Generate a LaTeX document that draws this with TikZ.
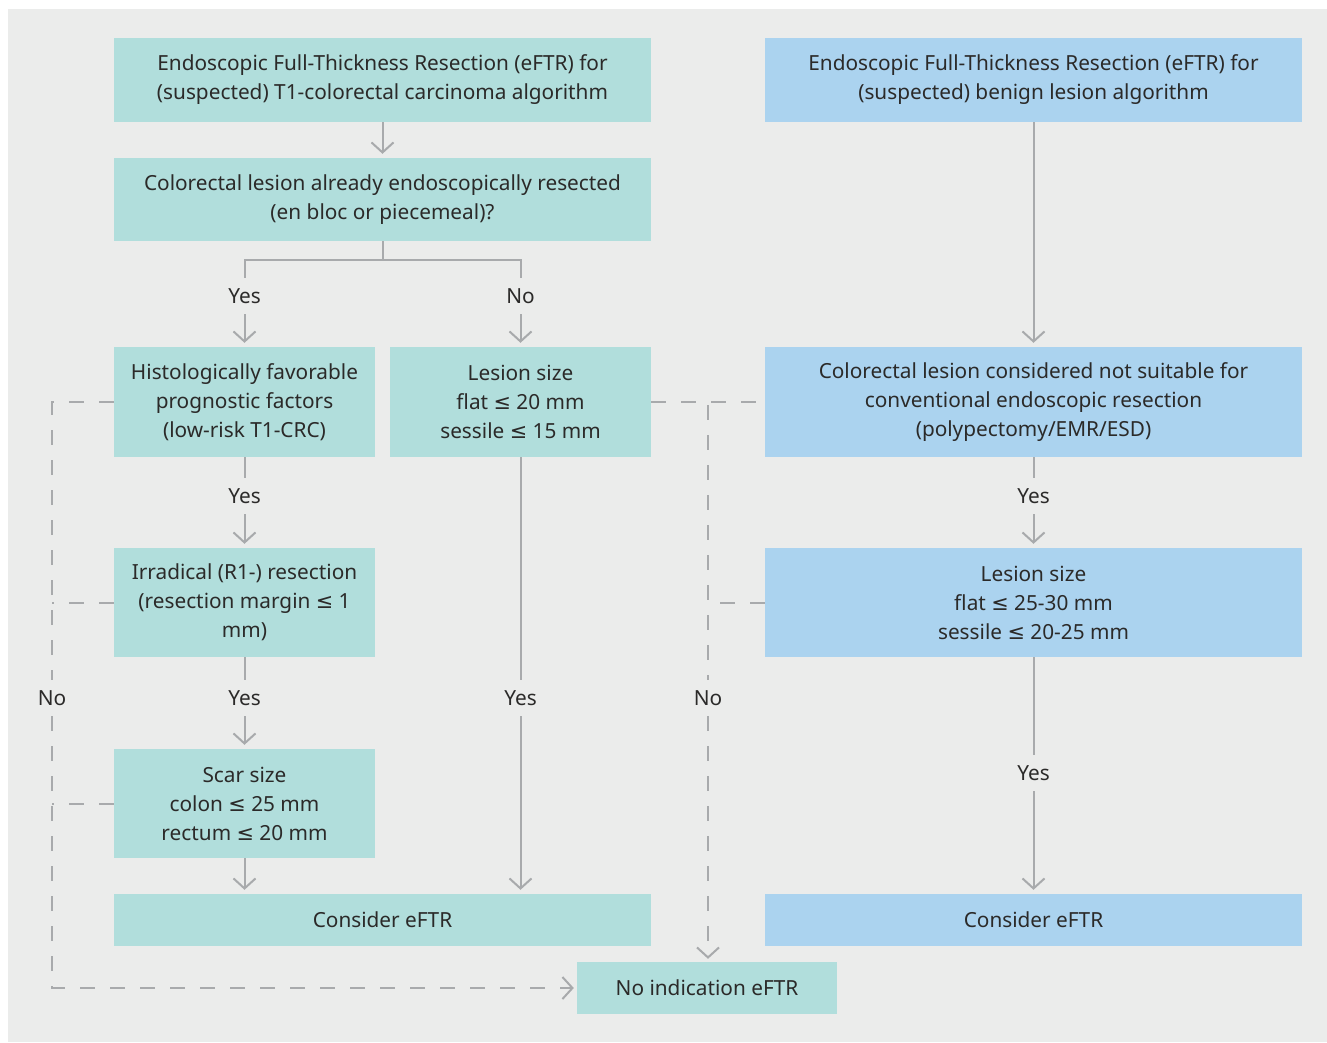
\documentclass[tikz,border=0pt]{standalone}
\usepackage{fontspec}
\setmainfont{Noto Sans}
\newfontfamily\symf{DejaVu Sans}
\newcommand{\lesym}{{\symf ≤}}
\usetikzlibrary{arrows.meta}
\definecolor{bgc}{HTML}{EBECEB}
\definecolor{teal1}{HTML}{B1DEDC}
\definecolor{blue1}{HTML}{ABD3EF}
\definecolor{linec}{HTML}{A8AAAC}
\definecolor{txtc}{HTML}{2B2A29}
\tikzset{
  box/.style={inner sep=0pt, align=center, text=txtc, font=\fontsize{20.8}{29}\selectfont},
  tbox/.style={box, fill=teal1},
  bbox/.style={box, fill=blue1},
  lab/.style={inner sep=0pt, minimum height=36pt, minimum width=40pt, text=txtc, font=\fontsize{20.8}{29}\selectfont},
  conn/.style={draw=linec, line width=2pt},
  arr/.style={conn, -{Straight Barb[length=10pt,width=22pt,line width=2pt]}, shorten >=4pt},
  dsh/.style={conn, dash pattern=on 15pt off 15pt},
  darr/.style={dsh, -{Straight Barb[length=10pt,width=22pt,line width=2pt]}, shorten >=3pt},
}
\begin{document}
\begin{tikzpicture}[x=1pt,y=-1pt]
\useasboundingbox (0,0) rectangle (1327,1042);
\fill[white] (0,0) rectangle (1327,1042);
\fill[bgc] (8,9) rectangle (1327,1042);

\node[tbox, minimum width=537pt, minimum height=84pt] (A) at (382.5,80) {Endoscopic Full-Thickness Resection (eFTR) for\\(suspected) T1-colorectal carcinoma algorithm};
\node[bbox, minimum width=537pt, minimum height=84pt] (B) at (1033.5,80) {Endoscopic Full-Thickness Resection (eFTR) for\\(suspected) benign lesion algorithm};
\node[tbox, minimum width=537pt, minimum height=83pt] (C) at (382.5,199.5) {Colorectal lesion already endoscopically resected\\(en bloc or piecemeal)?};
\node[tbox, minimum width=261pt, minimum height=110pt] (D) at (244.5,402) {Histologically favorable\\prognostic factors\\(low-risk T1-CRC)};
\node[tbox, minimum width=261pt, minimum height=110pt] (E) at (520.5,402) {Lesion size\\flat \lesym{} 20 mm\\sessile \lesym{} 15 mm};
\node[bbox, minimum width=537pt, minimum height=110pt] (F) at (1033.5,402) {Colorectal lesion considered not suitable for\\conventional endoscopic resection\\(polypectomy/EMR/ESD)};
\node[tbox, minimum width=261pt, minimum height=109pt] (G) at (244.5,602.5) {Irradical (R1-) resection\\(resection margin \lesym{} 1\\mm)};
\node[tbox, minimum width=261pt, minimum height=109pt] (H) at (244.5,803.5) {Scar size\\colon \lesym{} 25 mm\\rectum \lesym{} 20 mm};
\node[tbox, minimum width=537pt, minimum height=52pt] (I) at (382.5,920) {Consider eFTR};
\node[bbox, minimum width=537pt, minimum height=109pt] (J) at (1033.5,602.5) {Lesion size\\flat \lesym{} 25-30 mm\\sessile \lesym{} 20-25 mm};
\node[bbox, minimum width=537pt, minimum height=52pt] (K) at (1033.5,920) {Consider eFTR};
\node[tbox, minimum width=260pt, minimum height=52pt] (L) at (707,988) {No indication eFTR};

% labels
\node[lab] (y1) at (244.5,296) {Yes};
\node[lab] (n1) at (520.5,296) {No};
\node[lab] (y2) at (244.5,496) {Yes};
\node[lab] (y3) at (244.5,698) {Yes};
\node[lab] (y4) at (520.5,698) {Yes};
\node[lab] (y5) at (1033.5,496) {Yes};
\node[lab] (y6) at (1033.5,773) {Yes};
\node[lab] (n2) at (52,698) {No};
\node[lab] (n3) at (708,698) {No};
\coordinate (br) at (382.5,260);

% solid connectors
\draw[arr] (A.south) -- (C.north);
\draw[conn] (C.south) -- (br);
\draw[conn] (y1.north) |- (br) -| (n1.north);
\draw[arr] (y1.south) -- (D.north);
\draw[arr] (n1.south) -- (E.north);
\draw[conn] (D.south) -- (y2.north);
\draw[arr] (y2.south) -- (G.north);
\draw[conn] (G.south) -- (y3.north);
\draw[arr] (y3.south) -- (H.north);
\draw[arr] (H.south) -- (H.south |- I.north);
\draw[conn] (E.south) -- (y4.north);
\draw[arr] (y4.south) -- (y4.south |- I.north);
\draw[arr] (B.south) -- (F.north);
\draw[conn] (F.south) -- (y5.north);
\draw[arr] (y5.south) -- (J.north);
\draw[conn] (J.south) -- (y6.north);
\draw[arr] (y6.south) -- (K.north);

% dashed connectors
\draw[dsh] (D.west) -| (n2.north);
\draw[dsh] (G.west) -- (G.west -| n2);
\draw[dsh] (H.west) -- (H.west -| n2);
\draw[darr] (n2.south) |- (L.west);
\draw[dsh] (E.east) -- (F.west);
\draw[dsh] (n3 |- E.east) ++(0,3) -- (n3.north);
\draw[dsh] (J.west) -- (J.west -| n3);
\draw[darr] (n3.south) -- (n3.south |- L.north);
\end{tikzpicture}
\end{document}
